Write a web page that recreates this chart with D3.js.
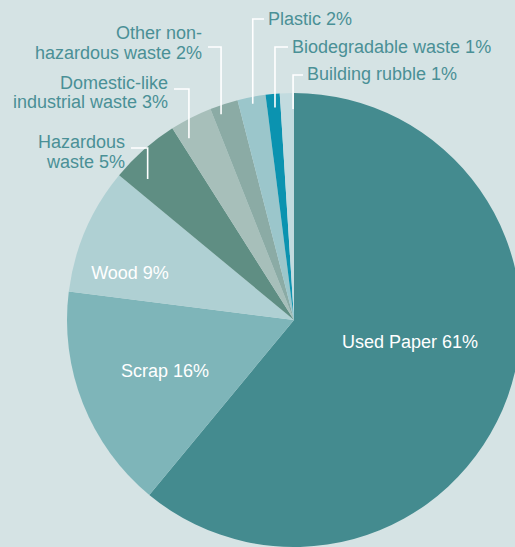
<!DOCTYPE html>
<html><head><meta charset="utf-8">
<script src="https://cdn.jsdelivr.net/npm/d3@7"></script>
<style>
html,body{margin:0;padding:0;background:#d5e3e4;overflow:hidden}
svg{display:block}
text{font-family:"Liberation Sans",Arial,sans-serif}
</style></head><body>
<svg id="c" width="515" height="547"></svg>
<script>
const categories = ["Used Paper","Scrap","Wood","Hazardous waste","Domestic-like industrial waste","Other non-hazardous waste","Plastic","Biodegradable waste","Building rubble"];
const values = [61,16,9,5,3,2,2,1,1];
const labelLines = [
  ["Used Paper 61%"],["Scrap 16%"],["Wood 9%"],["Hazardous","waste 5%"],
  ["Domestic-like","industrial waste 3%"],["Other non-","hazardous waste 2%"],
  ["Plastic 2%"],["Biodegradable waste 1%"],["Building rubble 1%"]
];
const colors = ["#448b8f","#7eb5b9","#afd0d3","#5f8e83","#a7bfba","#8baba5","#9bc6cb","#0b93b0","#c2dbdf"];

const svg = d3.select("#c");
const cx = 294, cy = 320, R = 227;
const g = svg.append("g").attr("transform",`translate(${cx},${cy})`);
const pie = d3.pie().sort(null).value(d=>d)(values);
const arc = d3.arc().innerRadius(0).outerRadius(R);
const color = d3.scaleOrdinal().domain(categories).range(colors);

g.selectAll("path").data(pie).enter().append("path")
  .attr("d",arc).attr("fill",(d,i)=>color(categories[i]));

// inside labels: [index, x, y] relative to centre
const inside = [[0,116,22],[1,-129,51],[2,-164,-47]];
inside.forEach(([i,x,y])=>{
  g.append("text").attr("x",x).attr("y",y).attr("dy","0.35em")
   .attr("text-anchor","middle").attr("fill","#ffffff").attr("font-size",18)
   .text(labelLines[i][0]);
});

const outside = [
  {i:3,f:0.24,r:0.895,ly:148,tx:125,anchor:"end",ty:[142,162]},
  {i:4,f:0.22,r:0.925,ly:89,tx:168,anchor:"end",ty:[83,102]},
  {i:5,f:0.29,r:0.962,ly:47,tx:202,anchor:"end",ty:[33,52.5]},
  {i:6,f:0.5,r:0.97,ly:19,tx:268,anchor:"start",ty:[19]},
  {i:7,f:0.58,r:0.94,ly:47,tx:292,anchor:"start",ty:[47]},
  {i:8,f:0.93,r:0.93,ly:75,tx:307,anchor:"start",ty:[74]}
];
outside.forEach(o=>{
  const p = pie[o.i];
  const a = p.startAngle + o.f*(p.endAngle-p.startAngle);
  const x = cx + Math.sin(a)*R*o.r, y = cy - Math.cos(a)*R*o.r;
  const ex = o.anchor==="end" ? o.tx+6 : o.tx-4;
  svg.append("path")
    .attr("d",`M${x},${y}V${o.ly}H${ex}`)
    .attr("fill","none").attr("stroke","#ffffff").attr("stroke-width",1.6);
  labelLines[o.i].forEach((t,k)=>{
    svg.append("text").attr("x",o.tx).attr("y",o.ty[k]).attr("dy","0.35em")
      .attr("text-anchor",o.anchor).attr("fill","#4a9096").attr("font-size",18)
      .text(t);
  });
});
</script></body></html>
